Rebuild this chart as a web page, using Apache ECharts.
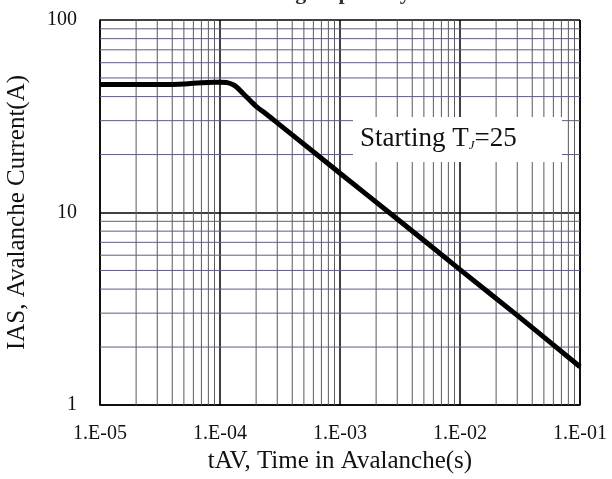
<!DOCTYPE html>
<html>
<head>
<meta charset="utf-8">
<script src="https://cdn.jsdelivr.net/npm/echarts@6/dist/echarts.min.js"></script>
<style>
  html, body { margin: 0; padding: 0; background: #fff; }
  #main { width: 612px; height: 479px; }
</style>
</head>
<body>
<div id="main"></div>
<script>
// avalanche current vs time in avalanche
const tAV = [1e-5, 2e-5, 3e-5, 4e-5, 5e-5, 6e-5, 7e-5, 8e-5, 1e-4, 1.15e-4, 1.3e-4, 1.4e-4, 1.55e-4, 1.7e-4, 1.85e-4, 2e-4, 2.5e-4, 3e-4, 4e-4, 1e-3, 3e-3, 1e-2, 3e-2, 1e-1];
const iAS = [46.2, 46.2, 46.2, 46.3, 46.5, 46.9, 47.2, 47.4, 47.5, 47.3, 46.0, 44.4, 41.6, 39.3, 37.3, 35.6, 32.0, 29.2, 25.3, 16.0, 9.25, 5.05, 2.92, 1.58];

const xTickLabels = ['1.E-05', '1.E-04', '1.E-03', '1.E-02', '1.E-01'];
const xDecades = [1e-5, 1e-4, 1e-3, 1e-2];
const yDecades = [1, 10];
const minorSteps = [2, 3, 4, 5, 6, 7, 8, 9];
const xRange = [1e-5, 1e-1];
const yRange = [1, 100];

// minor grid lines as broken polylines ('-' breaks the line)
const xMinorPts = [];
xDecades.forEach(d => minorSteps.forEach(m => {
  const v = d * m;
  xMinorPts.push([v, yRange[0]], [v, yRange[1]], [v, '-']);
}));
const yMinorPts = [];
yDecades.forEach(d => minorSteps.forEach(m => {
  const v = d * m;
  yMinorPts.push([xRange[0], v], [xRange[1], v], ['-', v]);
}));

const serif = 'Liberation Serif';
const chart = echarts.init(document.getElementById('main'));

const option = {
  animation: false,
  backgroundColor: '#fff',
  title: {
    text: 'Avalanching Capability',
    left: 295,
    textAlign: 'center',
    top: -23,
    textStyle: { fontFamily: serif, fontSize: 22, fontWeight: 'bold', color: '#333' }
  },
  grid: { left: 100, right: 32, top: 20, bottom: 74, containLabel: false, outerBoundsMode: 'none' },
  xAxis: {
    type: 'log',
    logBase: 10,
    min: xRange[0],
    max: xRange[1],
    name: 'tAV, Time in Avalanche(s)',
    nameLocation: 'middle',
    nameGap: 35,
    nameTextStyle: { fontFamily: serif, fontSize: 25, color: '#111' },
    axisLine: { lineStyle: { color: '#000', width: 1.5 } },
    axisTick: { show: false },
    axisLabel: {
      margin: 19,
      fontFamily: serif,
      fontSize: 20,
      color: '#111',
      formatter: v => xTickLabels[Math.round(Math.log10(v)) + 5]
    },
    splitLine: { show: true, lineStyle: { color: '#000', width: 1.5 } }
  },
  yAxis: {
    type: 'log',
    logBase: 10,
    min: yRange[0],
    max: yRange[1],
    name: 'IAS, Avalanche Current(A)',
    nameLocation: 'middle',
    nameGap: 70,
    nameTextStyle: { fontFamily: serif, fontSize: 25, color: '#111' },
    axisLine: { lineStyle: { color: '#000', width: 1.5 } },
    axisTick: { show: false },
    axisLabel: { margin: 23, fontFamily: serif, fontSize: 20, color: '#111' },
    splitLine: { show: true, lineStyle: { color: '#000', width: 1.5 } }
  },
  series: [
    {
      type: 'line',
      data: xMinorPts,
      silent: true,
      showSymbol: false,
      connectNulls: false,
      z: 1,
      lineStyle: { color: '#5a5a5a', width: 1 }
    },
    {
      type: 'line',
      data: yMinorPts,
      silent: true,
      showSymbol: false,
      connectNulls: false,
      z: 1,
      lineStyle: { color: '#5c5c88', width: 1 }
    },
    {
      type: 'line',
      data: tAV.map((t, i) => [t, iAS[i]]),
      showSymbol: false,
      smooth: 0.2,
      z: 3,
      lineStyle: { color: '#000', width: 5 }
    }
  ],
  graphic: [
    {
      type: 'rect',
      shape: { x: 353, y: 117, width: 209, height: 45 },
      style: { fill: '#fff' },
      z: 50
    },
    {
      type: 'text',
      x: 360,
      y: 139,
      z: 51,
      style: {
        text: '{a|Starting T}{s|J}{a|=25}',
        verticalAlign: 'middle',
        rich: {
          a: { fontFamily: serif, fontSize: 27, fill: '#111' },
          s: { fontFamily: serif, fontSize: 13, fontStyle: 'italic', fill: '#111', verticalAlign: 'bottom', padding: [10, 0, 0, 0] }
        }
      }
    }
  ]
};

chart.setOption(option);
window.addEventListener('resize', () => chart.resize());
</script>
</body>
</html>
